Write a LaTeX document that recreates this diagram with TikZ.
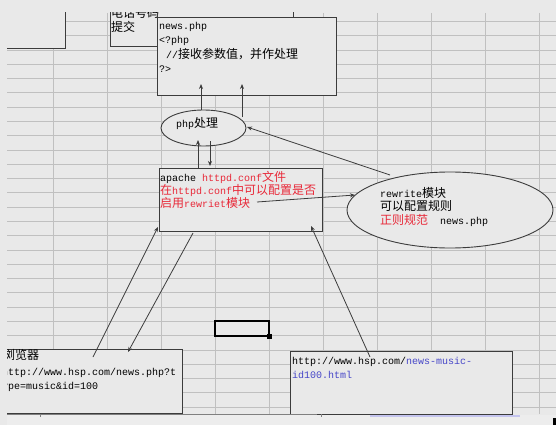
\documentclass[tikz,border=0pt]{standalone}
\usepackage{fontspec}
\setmainfont{Liberation Mono}
\newfontfamily\cjkf{Noto Sans CJK SC}
\usetikzlibrary{arrows.meta,shapes.geometric}
\definecolor{bg}{RGB}{233,233,233}
\definecolor{gridc}{RGB}{192,192,192}
\definecolor{boxline}{RGB}{60,60,60}
\definecolor{redt}{RGB}{232,40,56}
\definecolor{bluet}{RGB}{70,70,200}
\definecolor{lav}{RGB}{196,196,238}
\newcommand\zh[1]{{\cjkf\fontsize{12}{14}\selectfont #1}}
\tikzset{
  gridline/.style={draw=gridc, line width=0.8pt},
  box/.style={draw=boxline, line width=0.9pt, fill=bg, inner sep=0pt, anchor=north west},
  ell/.style={ellipse, draw=boxline, line width=0.9pt, fill=bg, inner sep=0pt},
  txt/.style={anchor=base west, inner sep=0pt, font=\fontsize{10}{12}\selectfont},
  arr/.style={draw=boxline, line width=0.8pt, -{Stealth[length=5pt,width=4pt]}},
}
\begin{document}
\begin{tikzpicture}[x=1pt,y=-1pt]
\useasboundingbox (0,0) rectangle (556,425);
\fill[bg] (0,0) rectangle (556,425);
\begin{scope}
\clip (7,13) rectangle (556,425);
% grid
\foreach \x in {53,107,161,215,269,323,377,431,485,539}
  \draw[gridline] (\x,13) -- (\x,414);
\foreach \k in {0,...,27}
  \draw[gridline] (7,{21.5+14.28*\k}) -- (556,{21.5+14.28*\k});
% top-left blank object
\fill[bg] (0,0) rectangle (65,48);
\draw[boxline, line width=0.9pt] (65,0) -- (65,48) -- (0,48);
% partially hidden top box
\node[box, minimum width=183pt, minimum height=56pt] (topbox) at (110,-10) {};
\node[txt] (t0a) at (111,17.5) {\zh{电话号码}};
\node[txt] (t0b) at (111,32) {\zh{提交}};
\draw[boxline, line width=0.9pt] (157,0) -- (157,17);
% news.php box
\node[box, minimum width=179pt, minimum height=78pt] (news) at (157,17) {};
\node[txt] (n1) at (159,29.5) {news.php};
\node[txt] (n2) at (159,44) {<?php};
\node[txt] (n3) at (160,58.5) {~//\zh{接收参数值，并作处理}};
\node[txt] (n4) at (159,72.5) {?>};
% php ellipse
\node[ell, minimum width=85pt, minimum height=36pt] (php) at (203.5,128) {};
\node[txt] (p1) at (176,127) {php\zh{处理}};
% apache box
\node[box, minimum width=163pt, minimum height=63pt] (apache) at (159,168) {};
\node[txt] (a1) at (160,181.5) {apache \textcolor{redt}{httpd.conf\zh{文件}}};
\node[txt] (a2) at (160,194.5) {\color{redt}\zh{在}httpd.conf\zh{中可以配置是否}};
\node[txt] (a3) at (160,207.5) {\color{redt}\zh{启用}rewriet\zh{模块}};
% rewrite ellipse
\node[ell, minimum width=206pt, minimum height=76pt] (rewrite) at (450,210) {};
\node[txt] (r1) at (380,197) {rewrite\zh{模块}};
\node[txt] (r2) at (380,210.5) {\zh{可以配置规则}};
\node[txt] (r3) at (380,224) {\textcolor{redt}{\zh{正则规范}}};
\node[txt] (r4) at (440,224) {news.php};
% browser box
\node[box, minimum width=202pt, minimum height=64pt] (browser) at (-20,349) {};
\node[txt] (b1) at (3,359.5) {\zh{浏览器}};
\node[txt] (b2) at (2,375.5) {http://www.hsp.com/news.php?t};
\node[txt] (b3) at (2,389.5) {ype=music\&id=100};
% news-music box
\node[box, minimum width=222pt, minimum height=63pt] (music) at (290,351) {};
\node[txt] (m1) at (292,364) {http://www.hsp.com/\textcolor{bluet}{news-music-}};
\node[txt] (m2) at (292,378) {\textcolor{bluet}{id100.html}};
% connector end points
\coordinate (c1s) at (201,110); \coordinate (c1e) at (201,84);
\coordinate (c2s) at (242,117); \coordinate (c2e) at (242,84);
\coordinate (c3s) at (198,168); \coordinate (c3e) at (198,140);
\coordinate (c4s) at (210,141); \coordinate (c4e) at (210,166);
\coordinate (c5s) at (390,175); \coordinate (c5e) at (247,127);
\coordinate (c6s) at (257,202); \coordinate (c6e) at (355,195);
\coordinate (c7s) at (93,357);  \coordinate (c7e) at (158,227);
\coordinate (c8s) at (193,233); \coordinate (c8e) at (128,352);
\coordinate (c9s) at (370,357); \coordinate (c9e) at (311,226);
\draw[arr] (c1s) -- (c1e);
\draw[arr] (c2s) -- (c2e);
\draw[arr] (c3s) -- (c3e);
\draw[arr] (c4s) -- (c4e);
\draw[arr] (c5s) -- (c5e);
\draw[arr] (c6s) -- (c6e);
\draw[arr] (c7s) -- (c7e);
\draw[arr] (c8s) -- (c8e);
\draw[arr] (c9s) -- (c9e);
% selected cell
\draw[black, line width=2pt] (215,321) rectangle (269,336);
\fill[black] (267,334) rectangle (272,339);
% bottom strip
\fill[bg!80!white] (7,415) rectangle (556,425);
\draw[gray, line width=0.9pt] (7,414) -- (317,414);
\draw[gray, line width=0.9pt] (40,414) -- (40,417);
\draw[gray, line width=0.9pt] (321,414) -- (321,417);
\draw[lav, line width=1.5pt] (370,416) -- (520,416);
\fill[black] (553,418) rectangle (556,425);
\end{scope}
\end{tikzpicture}
\end{document}
